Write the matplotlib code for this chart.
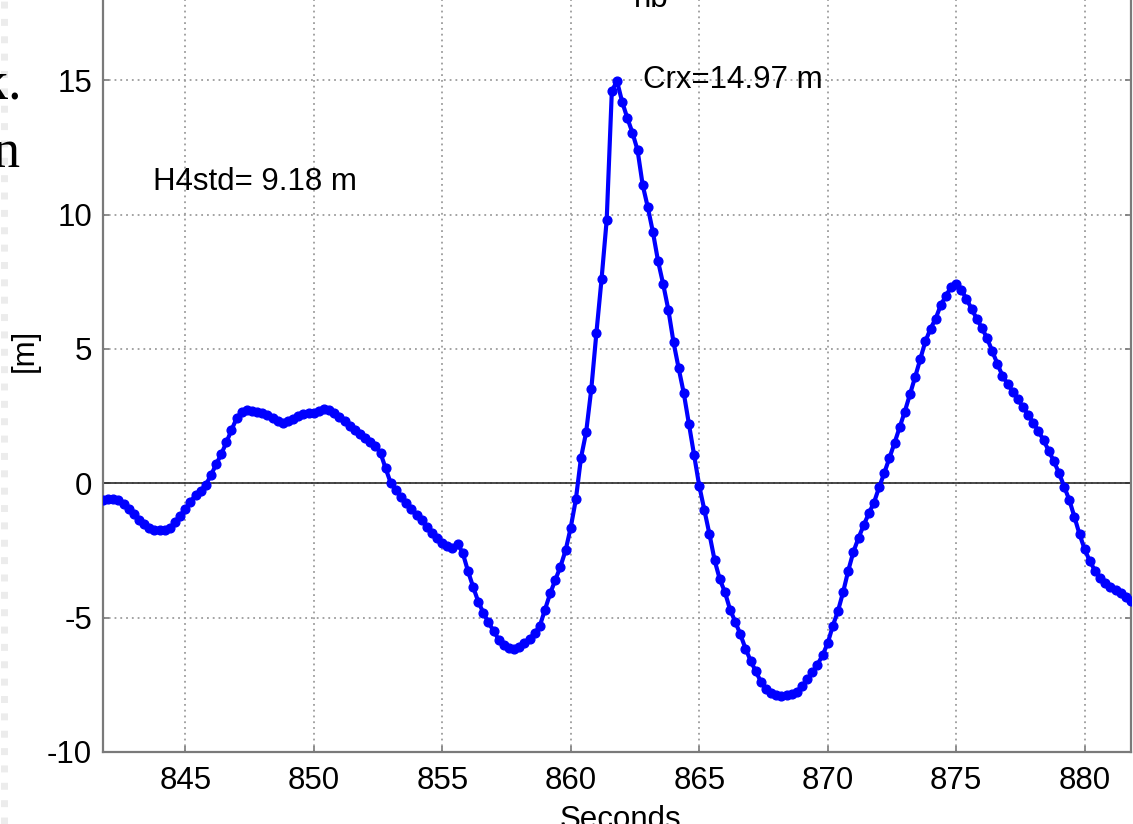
import numpy as np
import matplotlib
matplotlib.use("Agg")
import matplotlib.pyplot as plt
from matplotlib.lines import Line2D

# Sample times (s): one sample every 0.2 s
t_start = 841.8
t_step = 0.2

# Surface elevation [m]
elevation = [
    -0.62, -0.60, -0.58, -0.62, -0.76, -0.95, -1.15, -1.35, -1.53, -1.66,
    -1.74, -1.75, -1.73, -1.68, -1.45, -1.20, -0.95, -0.68, -0.45, -0.27,
    -0.06, 0.30, 0.70, 1.08, 1.52, 1.98, 2.42, 2.65, 2.72, 2.70,
    2.66, 2.62, 2.54, 2.44, 2.33, 2.23, 2.30, 2.40, 2.50, 2.57,
    2.61, 2.63, 2.68, 2.78, 2.72, 2.61, 2.46, 2.30, 2.15, 2.00,
    1.85, 1.70, 1.55, 1.40, 1.12, 0.55, 0.00, -0.25, -0.50, -0.73,
    -0.95, -1.17, -1.38, -1.62, -1.85, -2.05, -2.22, -2.35, -2.42, -2.25,
    -2.60, -3.26, -3.85, -4.40, -4.82, -5.18, -5.50, -5.82, -6.02, -6.14,
    -6.17, -6.08, -5.95, -5.78, -5.58, -5.30, -4.70, -4.10, -3.60, -3.10,
    -2.50, -1.65, -0.60, 0.95, 1.90, 3.50, 5.60, 7.60, 9.80, 14.60,
    14.97, 14.20, 13.60, 13.05, 12.40, 11.10, 10.27, 9.34, 8.26, 7.40,
    6.45, 5.25, 4.28, 3.35, 2.20, 1.05, -0.09, -1.00, -1.90, -2.87,
    -3.57, -4.05, -4.70, -5.15, -5.62, -6.15, -6.60, -7.00, -7.38, -7.65,
    -7.82, -7.89, -7.92, -7.87, -7.83, -7.75, -7.55, -7.29, -7.04, -6.75,
    -6.40, -5.95, -5.30, -4.75, -4.05, -3.25, -2.55, -2.03, -1.56, -1.12,
    -0.72, -0.15, 0.38, 0.94, 1.50, 2.08, 2.67, 3.31, 3.95, 4.62,
    5.28, 5.75, 6.13, 6.63, 6.98, 7.30, 7.42, 7.20, 6.86, 6.49,
    6.12, 5.78, 5.40, 4.92, 4.45, 4.00, 3.70, 3.41, 3.12, 2.83,
    2.55, 2.25, 1.94, 1.60, 1.21, 0.82, 0.38, -0.12, -0.62, -1.25,
    -1.90, -2.46, -2.90, -3.25, -3.52, -3.71, -3.86, -3.98, -4.09, -4.22,
    -4.38,
]

xticks = [845, 850, 855, 860, 865, 870, 875, 880]
yticks = [-10, -5, 0, 5, 10, 15]

crest_label = "Crx=14.97 m"
crest_pos = (862.8, 15.0)
h4_label = "H4std= 9.18 m"
h4_pos = (843.75, 11.2)

seconds = t_start + t_step * np.arange(len(elevation))

plt.rcParams["font.family"] = ["Liberation Sans", "DejaVu Sans"]
plt.rcParams["axes.unicode_minus"] = False
fs = 22.5
axis_grey = "#7a7a7a"

fig = plt.figure(figsize=(11.33, 8.24), dpi=100)
# axes runs past the top of the figure (the screenshot was cropped)
ax = fig.add_axes([0.0909, 0.0874, 0.9073, 0.9783])

ax.plot(seconds, elevation, color="#0000ff", linewidth=3.0,
        marker="o", markersize=6.3, zorder=3)
ax.axhline(0, color="#2a2a2a", linewidth=1.2, zorder=2)

ax.set_xlim(841.8, 881.8)
ax.set_ylim(-10, 20)
ax.set_xticks(xticks)
ax.set_yticks(yticks)
# grid line at 20 sits outside the crop anyway
ax.yaxis.set_minor_locator(plt.NullLocator())

ax.grid(True, color="#9c9c9c", linestyle=(0, (1, 2.2)), linewidth=1.3)
for side in ax.spines.values():
    side.set_color(axis_grey)
    side.set_linewidth(1.6)
ax.tick_params(direction="in", length=4, width=1.2, color=axis_grey,
               top=True, right=True, labelsize=fs, labelcolor="black")
ax.tick_params(axis="x", pad=10)
ax.tick_params(axis="y", pad=8)

ax.text(crest_pos[0], crest_pos[1], crest_label, fontsize=fs,
        ha="left", va="center")
ax.text(h4_pos[0], h4_pos[1], h4_label, fontsize=fs,
        ha="left", va="center")

# labels sit half outside the crop, as in the screenshot
fig.text(651 / 1133, 1 - 7 / 824, "nb", fontsize=fs, ha="center",
         va="baseline")
fig.text(620 / 1133, 1 - 805 / 824, "Seconds", fontsize=fs, ha="center",
         va="top")
fig.text(25 / 1133, 1 - 350 / 824, "[m]", fontsize=fs, rotation=90,
         ha="center", va="center")

# bits of the surrounding page text
fig.text(22 / 1133, 1 - 100 / 824, "k.", fontsize=39, family="Liberation Serif",
         ha="right", va="baseline")
fig.text(20 / 1133, 1 - 167 / 824, "n", fontsize=39, family="Liberation Serif",
         ha="right", va="baseline")
fig.add_artist(Line2D([4 / 1133, 4 / 1133], [0, 1], color="#ececec",
                      linewidth=5, linestyle=(0, (1, 1.5)),
                      transform=fig.transFigure))

fig.savefig("out.png", dpi=100)
